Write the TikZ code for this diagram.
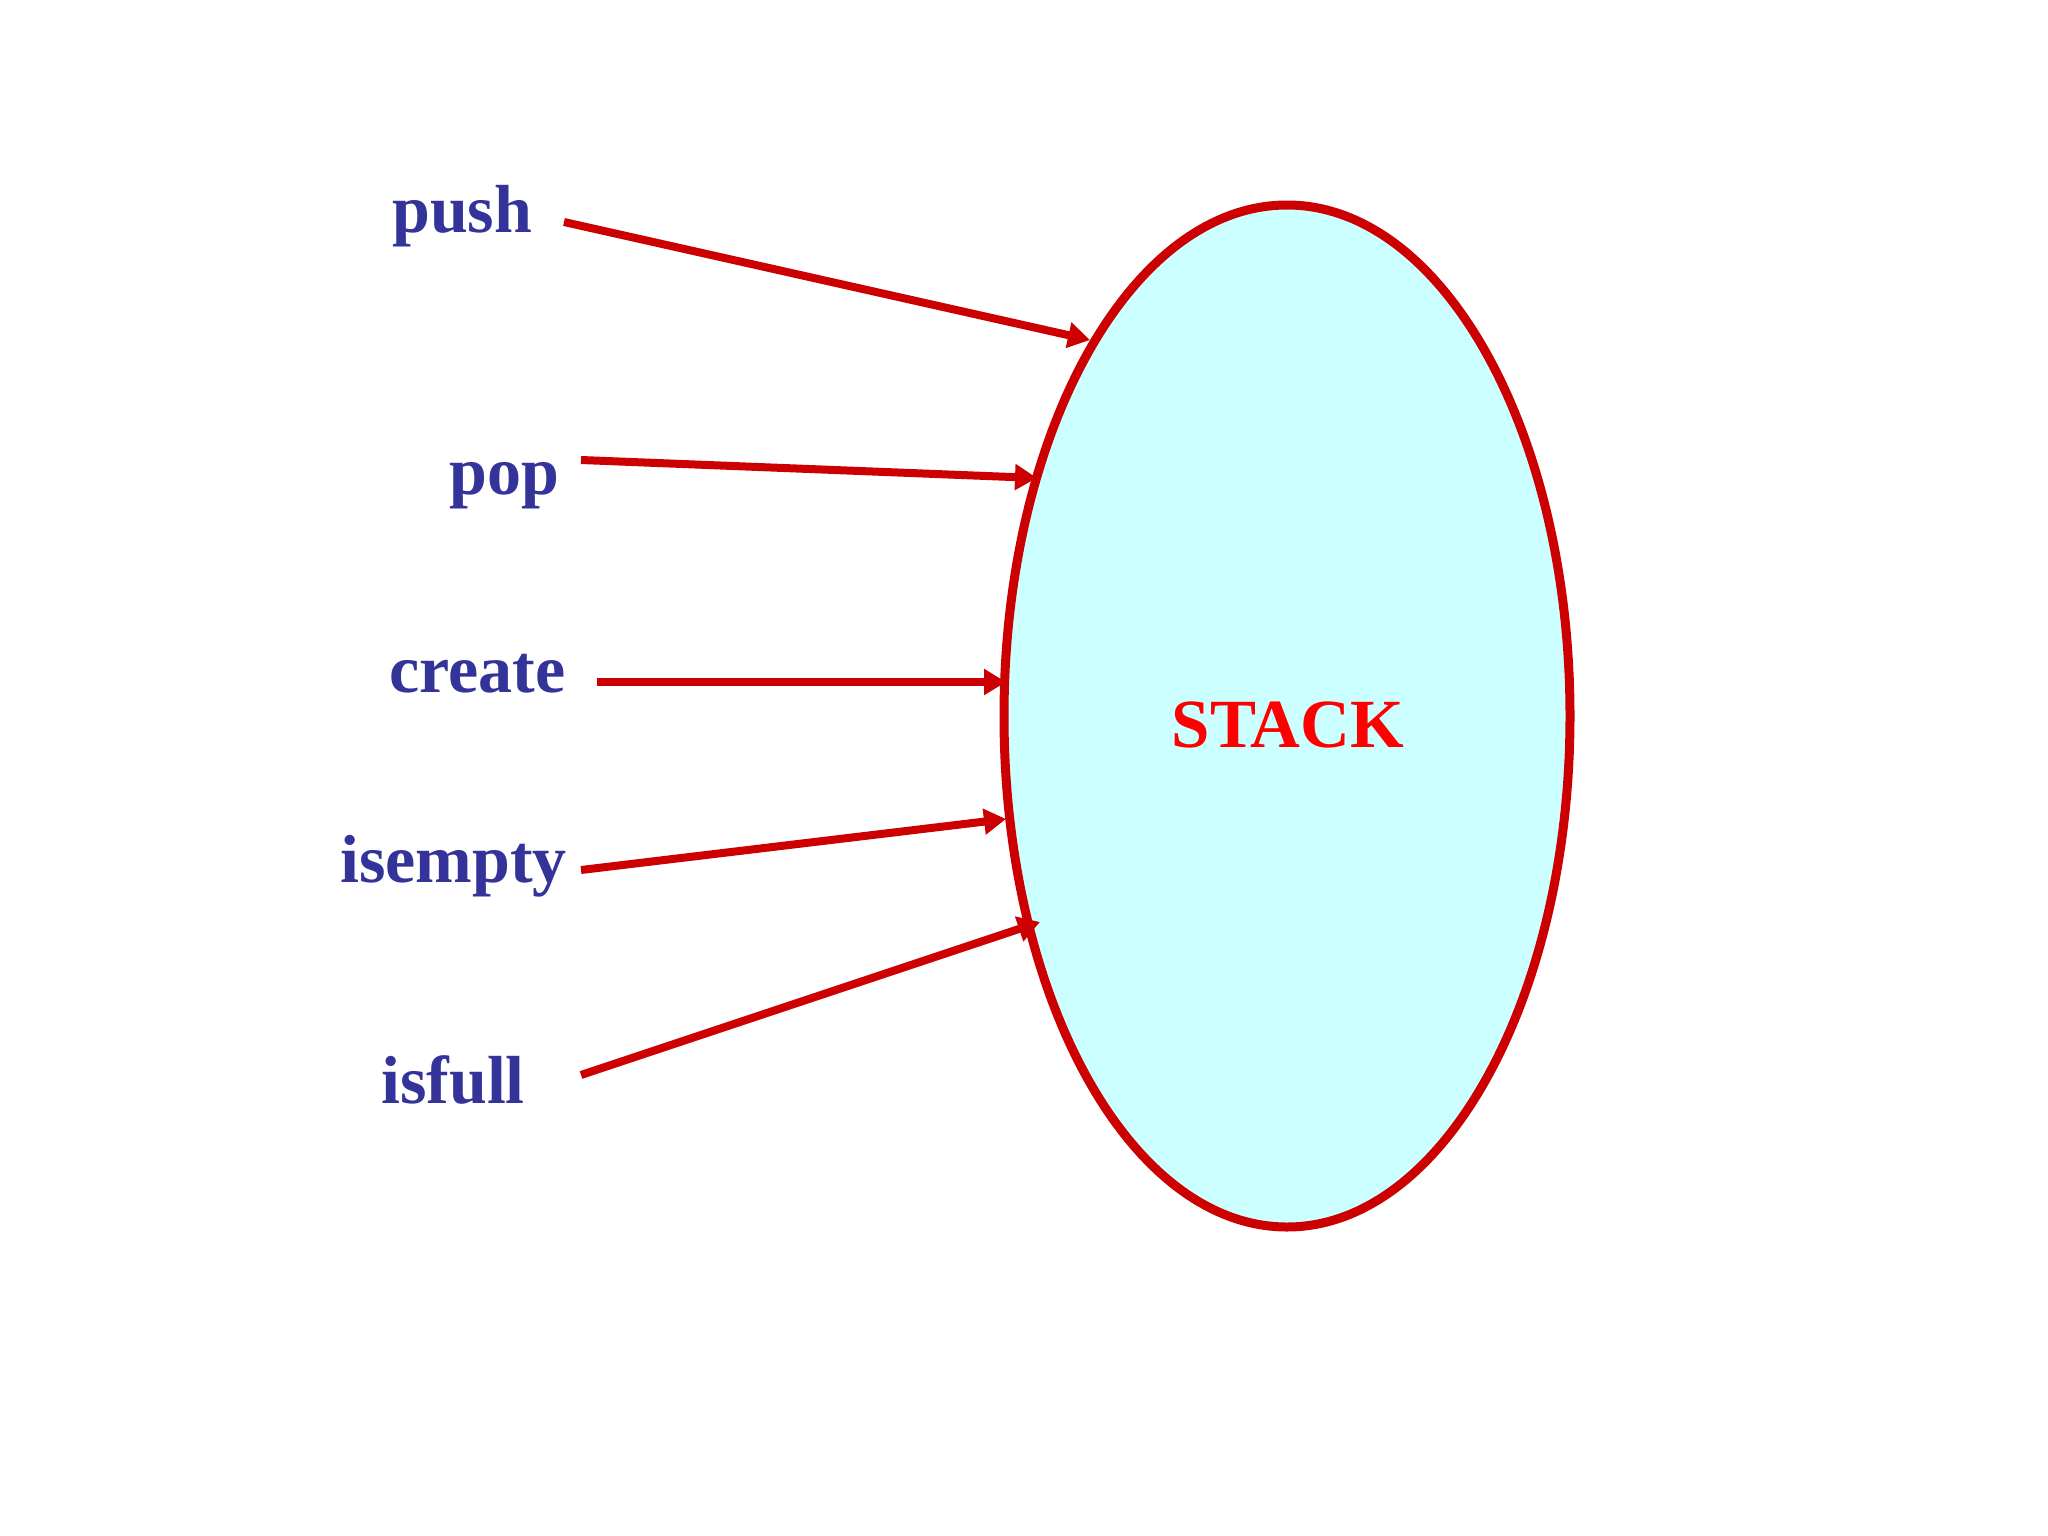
\documentclass[tikz,border=0pt]{standalone}
\usepackage{fontspec}
\setmainfont{Liberation Serif}
\usetikzlibrary{arrows.meta}
\definecolor{lblblue}{HTML}{333399}
\definecolor{arrred}{HTML}{CC0000}
\definecolor{stackred}{HTML}{FF0000}
\definecolor{stackfill}{HTML}{CCFFFF}
\tikzset{
  lbl/.style={anchor=base west, inner sep=0pt, text=lblblue, font=\fontsize{68}{80}\selectfont\bfseries},
  opar/.style={draw=arrred, line width=8pt, -{Triangle[length=22pt,width=25pt]}},
}
\begin{document}
\begin{tikzpicture}[x=1pt,y=-1pt]
\useasboundingbox (0,0) rectangle (2048,1536);
\fill[white] (0,0) rectangle (2048,1536);
\draw[arrred, fill=stackfill, line width=9pt] (1287,716) ellipse [x radius=283, y radius=511];
\node[anchor=base, inner sep=0pt, text=stackred, font=\fontsize{69}{80}\selectfont\bfseries] (stack) at (1288,747) {STACK};
\node[lbl] (push) at (392,232) {push};
\node[lbl] (pop) at (449,494) {pop};
\node[lbl] (create) at (389,692) {create};
\node[lbl] (isempty) at (340,882) {isempty};
\node[lbl] (isfull) at (381,1103) {isfull};
\coordinate (s1) at (564,222); \coordinate (t1) at (1090,340);
\coordinate (s2) at (581,460); \coordinate (t2) at (1037,478);
\coordinate (s3) at (597,682); \coordinate (t3) at (1006,682);
\coordinate (s4) at (581,870); \coordinate (t4) at (1006,819);
\coordinate (s5) at (581,1075); \coordinate (t5) at (1040,922);
\draw[opar] (s1) -- (t1);
\draw[opar] (s2) -- (t2);
\draw[opar] (s3) -- (t3);
\draw[opar] (s4) -- (t4);
\draw[opar] (s5) -- (t5);
\end{tikzpicture}
\end{document}
